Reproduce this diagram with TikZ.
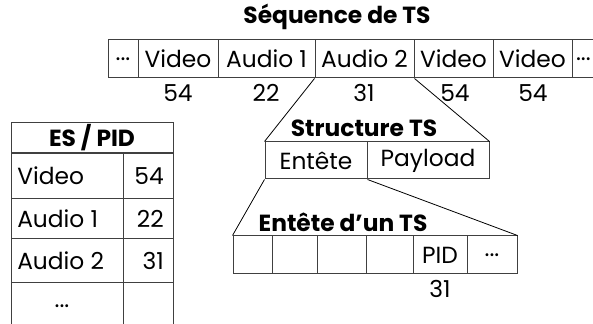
\documentclass[tikz,border=0pt]{standalone}
\usepackage{fontspec}
\setmainfont{Poppins}
\newcommand{\fsz}{\fontsize{17.5}{20}\selectfont}
\begin{document}
\begin{tikzpicture}[x=0.75pt,y=-0.75pt,
  cell/.style={draw=black!75, line width=0.75pt, inner sep=0pt, minimum height=#1*0.75pt, font=\fsz},
  cell/.default=38,
  lbl/.style={inner sep=0pt, font=\fsz},
  ttl/.style={inner sep=0pt, font=\bfseries\fsz},
  link/.style={draw=black, line width=0.6pt}]
\clip (0,0) rectangle (593,324);
% TS sequence
\node[ttl] (t1) at (337,17) {Séquence de TS};
\node[cell, minimum width=30*0.75pt] (s0) at (123,59) {...};
\node[cell, minimum width=80*0.75pt] (s1) at (178,59) {Video};
\node[cell, minimum width=97*0.75pt] (s2) at (266.5,59) {Audio 1};
\node[cell, minimum width=99*0.75pt] (s3) at (364.5,59) {Audio 2};
\node[cell, minimum width=79*0.75pt] (s4) at (453.5,59) {Video};
\node[cell, minimum width=79*0.75pt] (s5) at (532.5,59) {Video};
\node[cell, minimum width=48*0.75pt, text width=40*0.75pt, align=left] (s6) at (596,59) {...};
\node[lbl] (p1) at (178,93) {54};
\node[lbl] (p2) at (266,93) {22};
\node[lbl] (p3) at (364,93) {31};
\node[lbl] (p4) at (455,93) {54};
\node[lbl] (p5) at (533,93) {54};
% Structure TS
\node[ttl] (t2) at (364,128) {Structure TS};
\node[cell=37, minimum width=102*0.75pt] (e) at (316,160.5) {Entête};
\node[cell=37, minimum width=122*0.75pt] (pl) at (428,160.5) {Payload};
% Header of a TS
\node[ttl] (t3) at (343,222) {Entête d{\char"0027}un TS};
\node[cell, minimum width=39*0.75pt] (h1) at (252.5,255) {};
\node[cell, minimum width=45*0.75pt] (h2) at (294.5,255) {};
\node[cell, minimum width=49*0.75pt] (h3) at (341.5,255) {};
\node[cell, minimum width=47*0.75pt] (h4) at (389.5,255) {};
\node[cell, minimum width=54*0.75pt] (h5) at (440,255) {PID};
\node[cell, minimum width=50*0.75pt] (h6) at (492,255) {...};
\node[lbl] (p6) at (440,289) {31};
% connectors
\draw[link] (s3.south west) -- (e.north west);
\draw[link] (s3.south east) -- (pl.north east);
\draw[link] (e.south west) -- (h1.north west);
\draw[link] (e.south east) -- (h6.north east);
% ES / PID table
\node[cell=30.5, minimum width=162*0.75pt, font=\bfseries\fsz] (th) at (92,138) {ES / PID};
\node[cell=46, minimum width=112*0.75pt] (r1a) at (67,176) {};
\node[cell=46, minimum width=50*0.75pt] (r1b) at (148,176) {};
\node[cell=40, minimum width=112*0.75pt] (r2a) at (67,219) {};
\node[cell=40, minimum width=50*0.75pt] (r2b) at (148,219) {};
\node[cell=44, minimum width=112*0.75pt] (r3a) at (67,261) {};
\node[cell=44, minimum width=50*0.75pt] (r3b) at (148,261) {};
\node[cell=60, minimum width=112*0.75pt] (r4a) at (67,313) {};
\node[cell=60, minimum width=50*0.75pt] (r4b) at (148,313) {};
\node[lbl, anchor=west] (v1) at (17,176) {Video};
\node[lbl, anchor=west] (v2) at (17,219) {Audio 1};
\node[lbl, anchor=west] (v3) at (17,261) {Audio 2};
\node[lbl] (v4) at (62,306) {...};
\node[lbl, anchor=east] (n1) at (164,176) {54};
\node[lbl, anchor=east] (n2) at (164,219) {22};
\node[lbl, anchor=east] (n3) at (164,261) {31};
\end{tikzpicture}
\end{document}
